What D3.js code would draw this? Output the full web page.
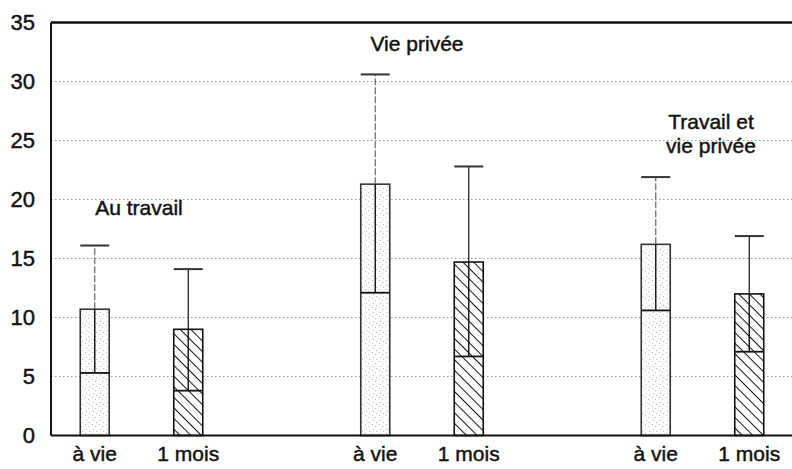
<!DOCTYPE html>
<html>
<head>
<meta charset="utf-8">
<script src="https://cdn.jsdelivr.net/npm/d3@7"></script>
<style>
  body { margin: 0; background: #fff; }
  text { font-family: Arial, "Liberation Sans", sans-serif; fill: #111; stroke: #111; stroke-width: 0.45px; }
</style>
</head>
<body>
<script>
let groups = ["Au travail", "Vie privée", "Travail et vie privée"];
let groupLines = [["Au travail"], ["Vie privée"], ["Travail et", "vie privée"]];
let periods = ["à vie", "1 mois"];
// bottom segment (lower value), full bar height, top of the whisker
let lowValues = [5.3, 3.8, 12.1, 6.7, 10.6, 7.1];
let barValues = [10.7, 9.0, 21.3, 14.7, 16.2, 12.0];
let capValues = [16.1, 14.1, 30.6, 22.8, 21.9, 16.9];
let yTicks = [0, 5, 10, 15, 20, 25, 30, 35];

let svg = d3.select('body')
  .append('svg')
  .attr("width", 792)
  .attr("height", 469);

let plotLeft = 51, plotTop = 22.5, plotBottom = 435.5, plotRight = 792;

// one slot per bar plus a blank slot between groups
let slots = [];
groups.forEach((g, gi) => {
  periods.forEach(p => slots.push(g + "|" + p));
  if (gi < groups.length - 1) slots.push("gap" + gi);
});

let bars = [];
groups.forEach((g, gi) => {
  periods.forEach((p, pi) => {
    let i = gi * periods.length + pi;
    bars.push({ key: g + "|" + p, period: p, low: lowValues[i], high: barValues[i], cap: capValues[i] });
  });
});

let x = d3.scaleBand()
  .domain(slots)
  .range([48, 796])
  .paddingInner(0.69)
  .paddingOuter(0.345);

let y = d3.scaleLinear()
  .domain([0, 35])
  .range([plotBottom, plotTop]);

// patterns
let defs = svg.append("defs");
let stip = defs.append("pattern")
  .attr("id", "stipple")
  .attr("patternUnits", "userSpaceOnUse")
  .attr("width", 7).attr("height", 9);
stip.append("rect").attr("width", 7).attr("height", 9).attr("fill", "#fdfdfd");
[[1, 1], [4, 3], [2, 6], [5, 8]].forEach(d => {
  stip.append("rect").attr("x", d[0]).attr("y", d[1]).attr("width", 1).attr("height", 1).attr("fill", "#bbb");
});

let hatch = defs.append("pattern")
  .attr("id", "hatch")
  .attr("patternUnits", "userSpaceOnUse")
  .attr("width", 7.5).attr("height", 7.5)
  .attr("patternTransform", "rotate(45)");
hatch.append("rect").attr("width", 7.5).attr("height", 7.5).attr("fill", "#fff");
hatch.append("line")
  .attr("x1", 0).attr("y1", 0).attr("x2", 7.5).attr("y2", 0)
  .attr("stroke", "#111").attr("stroke-width", 2);

// grid lines
svg.append("g")
  .selectAll("line")
  .data(yTicks.filter(t => t > 0 && t < 35))
  .join("line")
  .attr("x1", plotLeft).attr("x2", plotRight)
  .attr("y1", d => y(d)).attr("y2", d => y(d))
  .attr("stroke", "#999")
  .attr("stroke-width", 1)
  .attr("stroke-dasharray", "1.5,2.5");

// y axis
let yAxis = d3.axisLeft(y).tickValues(yTicks).tickSize(0).tickPadding(16);
let ya = svg.append("g")
  .attr("transform", `translate(${plotLeft},0)`)
  .call(yAxis);
ya.select(".domain").remove();
ya.selectAll("text")
  .style("font-size", "22px")
  .style("font-family", "Arial, 'Liberation Sans', sans-serif")
  .attr("fill", "#111");

svg.append("line")
  .attr("x1", plotLeft).attr("x2", plotLeft)
  .attr("y1", plotTop).attr("y2", plotBottom)
  .attr("stroke", "#111").attr("stroke-width", 2);
svg.append("line")
  .attr("x1", plotLeft).attr("x2", plotRight)
  .attr("y1", plotTop).attr("y2", plotTop)
  .attr("stroke", "#111").attr("stroke-width", 2.5);

// bars
let bw = x.bandwidth();
let gb = svg.append("g").selectAll("g").data(bars).join("g");

gb.append("rect")
  .attr("x", d => x(d.key))
  .attr("y", d => y(d.high))
  .attr("width", bw)
  .attr("height", d => y(0) - y(d.high))
  .attr("fill", d => d.period === "à vie" ? "url(#stipple)" : "url(#hatch)")
  .attr("stroke", d => d.period === "à vie" ? "#333" : "#111")
  .attr("stroke-width", 1.6);

gb.append("line")
  .attr("x1", d => x(d.key)).attr("x2", d => x(d.key) + bw)
  .attr("y1", d => y(d.low)).attr("y2", d => y(d.low))
  .attr("stroke", "#111").attr("stroke-width", 1.8);

// whisker inside the bar
gb.append("line")
  .attr("x1", d => x(d.key) + bw / 2).attr("x2", d => x(d.key) + bw / 2)
  .attr("y1", d => y(d.low)).attr("y2", d => y(d.high))
  .attr("stroke", "#111").attr("stroke-width", 1.4);

// whisker above the bar
gb.append("line")
  .attr("x1", d => x(d.key) + bw / 2).attr("x2", d => x(d.key) + bw / 2)
  .attr("y1", d => y(d.high)).attr("y2", d => y(d.cap))
  .attr("stroke", d => d.period === "à vie" ? "#666" : "#111")
  .attr("stroke-dasharray", d => d.period === "à vie" ? "7,2" : null)
  .attr("stroke-width", 1.2);

gb.append("line")
  .attr("x1", d => x(d.key)).attr("x2", d => x(d.key) + bw)
  .attr("y1", d => y(d.cap)).attr("y2", d => y(d.cap))
  .attr("stroke", "#333").attr("stroke-width", 2);

// x axis baseline
svg.append("line")
  .attr("x1", plotLeft).attr("x2", plotRight)
  .attr("y1", plotBottom).attr("y2", plotBottom)
  .attr("stroke", "#111").attr("stroke-width", 2.2);

// category labels
svg.append("g")
  .selectAll("text")
  .data(bars)
  .join("text")
  .attr("x", d => x(d.key) + bw / 2)
  .attr("y", 461)
  .attr("text-anchor", "middle")
  .style("font-size", "21px")
  .text(d => d.period);

// group labels, placed near their group
let labelPos = [[139, 215], [417, 51], [711, 129]];
groupLines.forEach((lines, i) => {
  let t = svg.append("text")
    .attr("text-anchor", "middle")
    .style("font-size", "21px");
  lines.forEach((l, j) => {
    t.append("tspan")
      .attr("x", labelPos[i][0])
      .attr("y", labelPos[i][1] + j * 23.5)
      .text(l);
  });
});
</script>
</body>
</html>
